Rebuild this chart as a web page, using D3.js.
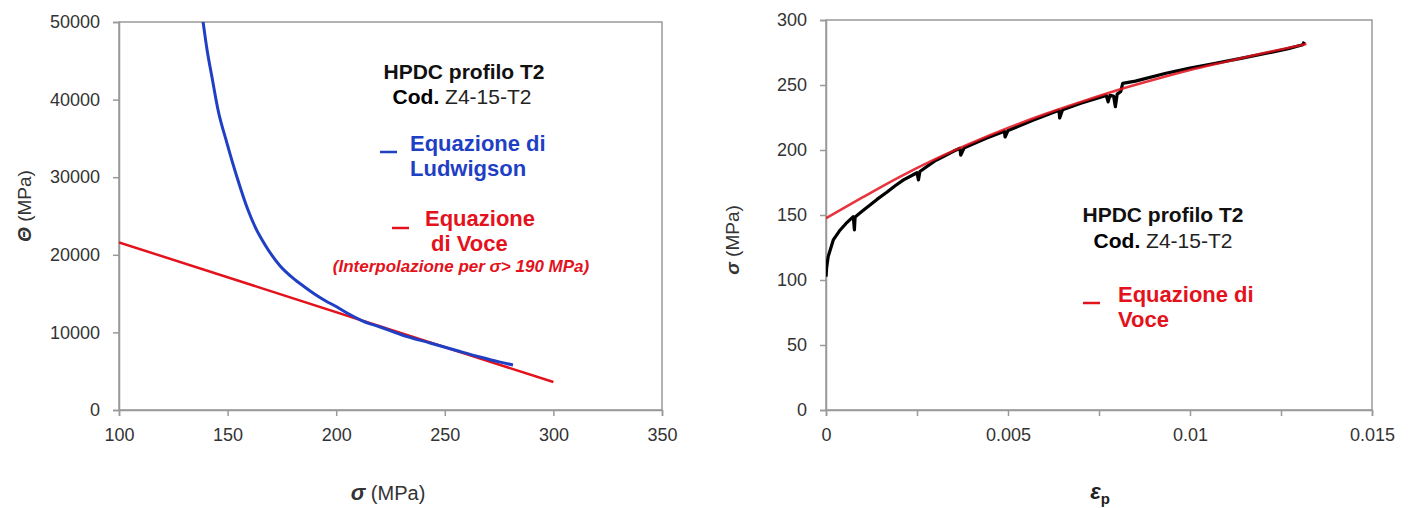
<!DOCTYPE html>
<html>
<head>
<meta charset="utf-8">
<script src="https://cdn.jsdelivr.net/npm/d3@7"></script>
<style>
  body { margin: 0; background: #fff; }
  svg { font-family: "Liberation Sans", Arial, sans-serif; }
  .axis path, .axis line { stroke: #999; stroke-width: 1.5; }
  .axis text { font-size: 18px; fill: #333; }
</style>
</head>
<body>
<svg width="1409" height="508"></svg>
<script>
// dati letti dal grafico
// sinistra: Theta vs sigma
var ludSigma = [137.6, 138.7, 140.5, 142.8, 145.6, 149.7, 154.3, 159.4, 163, 167.2, 170.5, 174.1, 180.1, 185, 190, 195, 200.4, 205, 212, 220.2, 230, 243.2, 255, 266.2, 275, 281.4]
var ludTheta = [52000, 50000, 46500, 42900, 38660, 34400, 30030, 25770, 23400, 21300, 19900, 18600, 17000, 15950, 14950, 14080, 13270, 12500, 11500, 10700, 9700, 8630, 7700, 6830, 6200, 5800]
var voceSigma = [100, 300]
var voceTheta = [21600, 3600]
var leftXTicks = [100, 150, 200, 250, 300, 350]
var leftYTicks = [0, 10000, 20000, 30000, 40000, 50000]

// destra: sigma vs eps_p
var flowEps = [0, 0.00002, 0.00006, 0.0002, 0.00039, 0.00055, 0.00075, 0.00078, 0.0008, 0.001, 0.00121, 0.0014, 0.00167, 0.0019, 0.00213, 0.0025, 0.00254, 0.00258, 0.003, 0.00304, 0.0035, 0.00368, 0.0037, 0.0038, 0.0044, 0.0049, 0.00492, 0.005, 0.0057, 0.0064, 0.00642, 0.0065, 0.007, 0.0077, 0.00775, 0.0078, 0.0079, 0.00795, 0.008, 0.0081, 0.00815, 0.0085, 0.00934, 0.0100, 0.0107, 0.0114, 0.0121, 0.0127, 0.0131, 0.01314]
var flowSigma = [102.5, 110, 118, 130.8, 138.5, 143.5, 148.7, 138.5, 148.5, 153, 157.7, 162, 167.5, 172.5, 177, 182.5, 177, 183.5, 191.8, 192.3, 199, 201.3, 196, 201.8, 209, 214.5, 210, 215, 223, 230.5, 224.6, 231, 236, 242, 237, 242, 241.5, 233.3, 243, 245, 251.3, 253, 259, 263, 266.7, 270.5, 274.4, 278, 281, 283.3]
var voceEps = [0, 0.001, 0.002, 0.003, 0.004, 0.005, 0.006, 0.007, 0.008, 0.009, 0.010, 0.011, 0.012, 0.0132]
var voceFit = [147.5, 163.5, 179, 193, 205.5, 217, 227.5, 237, 246, 254, 261.5, 268, 274.4, 281.5]
var rightXTicks = [0, 0.0025, 0.005, 0.0075, 0.01, 0.0125, 0.015]
var rightXLabels = [0, 0.005, 0.01, 0.015]
var rightYTicks = [0, 50, 100, 150, 200, 250, 300]

var blue = '#1f3fc4'
var red = '#e3121c'

var svg = d3.select('svg')

function zip(a, b) {
    return a.map(function(d, i) { return [d, b[i]] })
}

function frame(id, x0, x1, y0, y1) {
    svg.append('clipPath').attr('id', id)
        .append('rect').attr('x', x0).attr('y', y0).attr('width', x1 - x0).attr('height', y1 - y0)
    svg.append('rect')
        .attr('x', x0).attr('y', y0).attr('width', x1 - x0).attr('height', y1 - y0)
        .attr('fill', 'none').attr('stroke', '#999').attr('stroke-width', 1.5)
}

function label(x, y, txt, size, color, opts) {
    var t = svg.append('text').attr('x', x).attr('y', y).attr('font-size', size)
        .attr('font-weight', 'bold').attr('fill', color).text(txt)
    if (opts) for (var k in opts) t.attr(k, opts[k])
    return t
}

// ---------- grafico sinistro ----------
var xL = d3.scaleLinear().domain([100, 350]).range([119, 662])
var yL = d3.scaleLinear().domain([0, 50000]).range([410, 22])
frame('clipL', 119, 662, 22, 410)

svg.append('g').attr('class', 'axis')
    .attr('transform', 'translate(0,410)')
    .call(d3.axisBottom(xL).tickValues(leftXTicks).tickSize(6).tickPadding(12).tickFormat(d3.format('d')))
svg.append('g').attr('class', 'axis')
    .attr('transform', 'translate(119,0)')
    .call(d3.axisLeft(yL).tickValues(leftYTicks).tickSize(6).tickPadding(13).tickFormat(d3.format('d')))

var lineL = d3.line().x(function(d) { return xL(d[0]) }).y(function(d) { return yL(d[1]) })
var gL = svg.append('g').attr('clip-path', 'url(#clipL)')
gL.append('path').datum(zip(voceSigma, voceTheta))
    .attr('d', lineL).attr('fill', 'none').attr('stroke', red).attr('stroke-width', 2.5)
gL.append('path').datum(zip(ludSigma, ludTheta))
    .attr('d', lineL.curve(d3.curveMonotoneX)).attr('fill', 'none').attr('stroke', blue).attr('stroke-width', 3)

// titoli asse
var yt = svg.append('text').attr('transform', 'translate(31,206) rotate(-90)')
    .attr('text-anchor', 'middle').attr('font-size', 19).attr('fill', '#333')
yt.append('tspan').attr('font-style', 'italic').attr('font-weight', 'bold').text('Θ')
yt.append('tspan').text(' (MPa)')
var xt = svg.append('text').attr('x', 388).attr('y', 500)
    .attr('text-anchor', 'middle').attr('font-size', 20).attr('fill', '#333')
xt.append('tspan').attr('font-style', 'italic').attr('font-weight', 'bold').attr('font-size', 22).text('σ')
xt.append('tspan').text(' (MPa)')

// testi
label(464, 79, 'HPDC profilo T2', 21, '#111', { 'text-anchor': 'middle' })
var cod = svg.append('text').attr('x', 462).attr('y', 104).attr('text-anchor', 'middle').attr('font-size', 21)
cod.append('tspan').attr('font-weight', 'bold').text('Cod. ')
cod.append('tspan').attr('fill', '#222').text('Z4-15-T2')

svg.append('line').attr('x1', 380).attr('x2', 397).attr('y1', 152).attr('y2', 152).attr('stroke', blue).attr('stroke-width', 2.5)
label(410, 151, 'Equazione di', 22, blue)
label(410, 176, 'Ludwigson', 22, blue)

svg.append('line').attr('x1', 392).attr('x2', 409).attr('y1', 228).attr('y2', 228).attr('stroke', red).attr('stroke-width', 2.5)
label(425, 226, 'Equazione', 22, red)
label(431, 251, 'di Voce', 22, red)
label(461, 272, '(Interpolazione per σ> 190 MPa)', 17, red, { 'text-anchor': 'middle', 'font-style': 'italic' })

// ---------- grafico destro ----------
var xR = d3.scaleLinear().domain([0, 0.015]).range([826, 1372])
var yR = d3.scaleLinear().domain([0, 300]).range([410, 20])
frame('clipR', 826, 1372, 20, 410)

svg.append('g').attr('class', 'axis')
    .attr('transform', 'translate(0,410)')
    .call(d3.axisBottom(xR).tickValues(rightXTicks).tickSize(6).tickPadding(12)
        .tickFormat(function(d) { return rightXLabels.some(function(v) { return Math.abs(v - d) < 1e-9 }) ? d3.format('~g')(d) : '' }))
svg.append('g').attr('class', 'axis')
    .attr('transform', 'translate(826,0)')
    .call(d3.axisLeft(yR).tickValues(rightYTicks).tickSize(6).tickPadding(13))

var lineR = d3.line().x(function(d) { return xR(d[0]) }).y(function(d) { return yR(d[1]) })
var gR = svg.append('g').attr('clip-path', 'url(#clipR)')
gR.append('path').datum(zip(flowEps, flowSigma))
    .attr('d', lineR).attr('fill', 'none').attr('stroke', '#000').attr('stroke-width', 3.2)
    .attr('stroke-linejoin', 'round')
gR.append('path').datum(zip(voceEps, voceFit))
    .attr('d', lineR.curve(d3.curveMonotoneX)).attr('fill', 'none').attr('stroke', red).attr('stroke-width', 2.5).attr('opacity', 0.85)

var yt2 = svg.append('text').attr('transform', 'translate(739,240) rotate(-90)')
    .attr('text-anchor', 'middle').attr('font-size', 19).attr('fill', '#333')
yt2.append('tspan').attr('font-style', 'italic').attr('font-weight', 'bold').text('σ')
yt2.append('tspan').text(' (MPa)')
var xt2 = svg.append('text').attr('x', 1100).attr('y', 499)
    .attr('text-anchor', 'middle').attr('font-size', 22).attr('font-weight', 'bold').attr('fill', '#222')
xt2.append('tspan').attr('font-style', 'italic').text('ε')
xt2.append('tspan').attr('font-size', 15).attr('dy', 5).text('p')

label(1163, 222, 'HPDC profilo T2', 21, '#111', { 'text-anchor': 'middle' })
var cod2 = svg.append('text').attr('x', 1163).attr('y', 248).attr('text-anchor', 'middle').attr('font-size', 21)
cod2.append('tspan').attr('font-weight', 'bold').text('Cod. ')
cod2.append('tspan').attr('fill', '#222').text('Z4-15-T2')

svg.append('line').attr('x1', 1083).attr('x2', 1100).attr('y1', 303).attr('y2', 303).attr('stroke', red).attr('stroke-width', 2.5)
label(1118, 302, 'Equazione di', 22, red)
label(1118, 327, 'Voce', 22, red)
</script>
</body>
</html>
